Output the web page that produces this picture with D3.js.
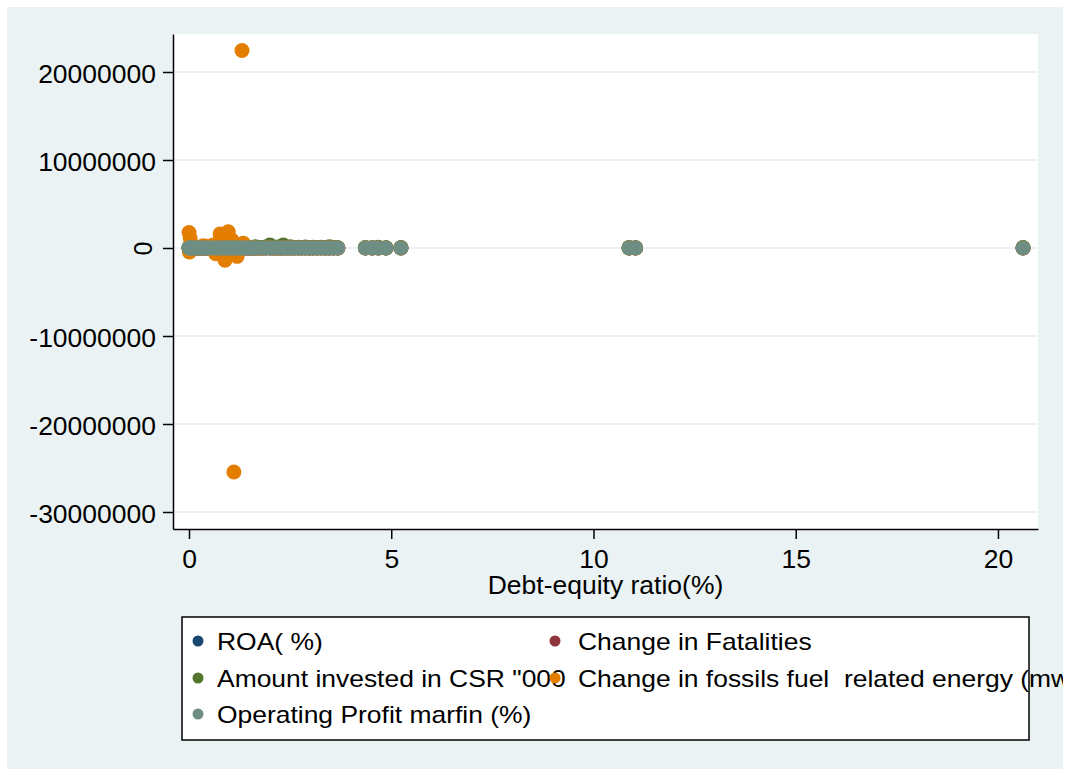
<!DOCTYPE html>
<html>
<head>
<meta charset="utf-8">
<script src="https://cdn.jsdelivr.net/npm/d3@7"></script>
<style>
  body { margin: 0; background: #fff; }
  text { font-family: "Liberation Sans", Arial, sans-serif; fill: #000; }
</style>
</head>
<body>
<script>
// x for every series: debt-equity ratio (%)
const debtEquity = [0.00, 0.01, 0.03, 0.06, 0.10, 0.14, 0.19, 0.24, 0.29, 0.35, 0.41, 0.45, 0.52, 0.60, 0.66, 0.72,
  0.77, 0.83, 0.89, 0.95, 0.97, 1.02, 1.06, 1.11, 1.15, 1.19, 1.24, 1.31, 1.34, 1.40, 1.48, 1.56, 1.64, 1.72, 1.81,
  1.90, 2.00, 2.09, 2.18, 2.26, 2.33, 2.42, 2.51, 2.60, 2.70, 2.79, 2.88, 2.98, 3.07, 3.17, 3.27, 3.37, 3.47, 3.57,
  3.68, 4.36, 4.53, 4.68, 4.87, 5.24, 10.88, 11.04, 20.62];

const roa = [4.2, 6.1, 3.5, -1.2, 8.7, 5.5, 2.9, 7.3, 1.8, 4.6, 9.2, 3.1, 5.9, 6.6, -2.4, 4.8, 7.7, 3.3, 2.2, 5.1,
  6.9, 1.4, 4.4, 8.1, 3.8, 2.6, 5.3, 6.2, 4.1, 7.0, 3.6, 2.8, 5.7, 4.9, 1.9, 6.4, 3.2, 5.0, 2.4, 4.3, 7.5, 3.9, 6.0,
  2.1, 4.7, 5.6, 3.4, 1.6, 4.5, 6.8, 2.7, 5.2, 3.0, 4.0, 2.3, 3.7, 1.1, 2.5, 0.9, -0.8, 1.3, 0.6, -3.2];

const fatalities = [0, 1, -1, 2, 0, 0, 3, -2, 1, 0, 0, 2, -1, 0, 1, 4, 0, -3, 1, 0, 2, 0, -1, 5, 0, 1, 0, -2, 3, 0,
  1, 0, 0, -1, 2, 0, 1, 0, -4, 0, 2, 1, 0, 0, -1, 3, 0, 1, 0, 0, 2, -1, 0, 1, 0, 0, 1, 0, -1, 0, 2, 0, 1];

const csr = [45000, 12000, 80000, 30000, 150000, 22000, 60000, 9000, 110000, 35000, 70000, 18000, 95000, 40000,
  125000, 28000, 55000, 14000, 100000, 65000, 38000, 85000, 500000, 20000, 140000, 48000, 75000, 32000, 160000, 26000,
  90000, 52000, 130000, 16000, 68000, 105000, 330000, 44000, 120000, 36000, 330000, 58000, 145000, 24000, 82000, 62000,
  115000, 10000, 72000, 42000, 98000, 30000, 135000, 50000, 20000, 60000, 34000, 88000, 15000, 46000, 70000, 25000, 54000];

const fossil = [1750000, -450000, 1100000, 15000, -22000, 8000, 30000, -12000, 5000, 250000, -40000, 200000, 60000,
  350000, -650000, 90000, 1600000, -120000, -1400000, 140000, 1850000, -200000, 900000, -25450000, 75000, -950000,
  -60000, 22450000, 550000, 40000, -25000, 18000, -9000, 12000, -30000, 7000, 21000, -15000, 9000, -6000, 14000, 3000,
  -11000, 8000, 2000, -4000, 6000, 10000, -7000, 3000, 5000, -2000, 4000, 1000, -3000, 2500, -1500, 3500, 800, -1200,
  600, -900, 400];

const opm = [12.5, 8.3, 15.1, 6.7, 10.2, 18.4, 9.9, 14.6, 7.2, 11.8, 13.3, 5.6, 16.9, 9.1, 12.0, 7.8, 10.7, 14.2, 6.1,
  11.4, 13.8, 8.9, 15.6, 10.0, 12.9, 7.4, 9.6, 16.3, 11.1, 8.0, 13.0, 10.5, 6.9, 14.8, 9.3, 12.2, 7.6, 11.9, 15.0, 8.6,
  10.9, 13.5, 6.4, 12.7, 9.7, 11.2, 14.1, 8.2, 10.3, 7.0, 12.4, 9.0, 11.6, 6.8, 10.1, 8.8, 5.2, 7.9, 4.6, 3.1, 6.3, 5.8, -2.5];

const seriesNames = ["ROA( %)", "Change in Fatalities", "Amount invested in CSR \"000",
  "Change in fossils fuel  related energy (mwh)", "Operating Profit marfin (%)"];
const seriesColors = ["#1a476f", "#90353b", "#55752f", "#e37e00", "#6e8e84"];
const seriesValues = [roa, fatalities, csr, fossil, opm];

const xTicks = [0, 5, 10, 15, 20];
const yTicks = [20000000, 10000000, 0, -10000000, -20000000, -30000000];
const xTitle = "Debt-equity ratio(%)";

var width = 1067, height = 770;
var svg = d3.select("body").append("svg")
    .attr("width", width)
    .attr("height", height);

// outer graph region
svg.append("rect").attr("x", 7).attr("y", 7).attr("width", 1056).attr("height", 762).attr("fill", "#eaf2f3");

var plot = {left: 173, right: 1038, top: 34, bottom: 529};
svg.append("rect")
    .attr("x", plot.left).attr("y", plot.top)
    .attr("width", plot.right - plot.left).attr("height", plot.bottom - plot.top)
    .attr("fill", "#fff");

var x = d3.scaleLinear().domain([-0.3956, 20.99]).range([plot.left, plot.right]);
var y = d3.scaleLinear().domain([24318000, -31932000]).range([plot.top, plot.bottom]);

// grid
svg.append("g").selectAll("line")
    .data(yTicks).enter().append("line")
    .attr("x1", plot.left).attr("x2", plot.right)
    .attr("y1", d => y(d)).attr("y2", d => y(d))
    .attr("stroke", "#eaf2f3").attr("stroke-width", 2);

// points, drawn in series order
seriesValues.forEach(function(vals, s) {
    var pts = debtEquity.map((d, i) => [d, vals[i]]).filter(p => p[1] !== undefined);
    svg.append("g").selectAll("circle")
        .data(pts).enter().append("circle")
        .attr("cx", d => x(d[0]))
        .attr("cy", d => y(d[1]))
        .attr("r", 7.5)
        .attr("fill", seriesColors[s]);
});

// plain hyphen for negatives, like the original
var fmt = d => d3.format("d")(d).replace("\u2212", "-");

// y axis
var yAxis = svg.append("g")
    .attr("transform", "translate(" + plot.left + ",0)")
    .call(d3.axisLeft(y).tickValues(yTicks).tickSize(10).tickSizeOuter(0).tickFormat(fmt));
yAxis.select(".domain").attr("stroke-width", 1.5);
yAxis.selectAll(".tick line").attr("stroke-width", 1.5);
yAxis.selectAll("text")
    .attr("x", 0).attr("dy", "0.42em")
    .attr("transform", "translate(-17,0) scale(1.06,1)")
    .style("font-size", "25px").style("font-family", "Liberation Sans, Arial, sans-serif");
// Stata drew the zero label turned on its side
yAxis.selectAll(".tick").filter(d => d === 0).select("text")
    .attr("x", null).attr("dy", null)
    .attr("text-anchor", "middle")
    .attr("transform", "translate(-21,0) rotate(-90)");

// x axis
var xAxis = svg.append("g")
    .attr("transform", "translate(0," + plot.bottom + ")")
    .call(d3.axisBottom(x).tickValues(xTicks).tickSize(10).tickSizeOuter(0));
xAxis.select(".domain").attr("stroke-width", 1.5);
xAxis.selectAll(".tick line").attr("stroke-width", 1.5);
xAxis.selectAll("text")
    .attr("y", 0).attr("dy", 0)
    .attr("transform", "translate(0,39) scale(1.06,1)")
    .style("font-size", "25px").style("font-family", "Liberation Sans, Arial, sans-serif");

svg.append("text")
    .attr("transform", "translate(" + (plot.left + plot.right) / 2 + ",594) scale(1.06,1)")
    .attr("text-anchor", "middle")
    .style("font-size", "25px")
    .text(xTitle);

// legend
svg.append("clipPath").attr("id", "graphclip")
    .append("rect").attr("x", 7).attr("y", 7).attr("width", 1056).attr("height", 762);

var legend = svg.append("g").attr("clip-path", "url(#graphclip)");
legend.append("rect")
    .attr("x", 182).attr("y", 617).attr("width", 847).attr("height", 123)
    .attr("fill", "#fff").attr("stroke", "#000").attr("stroke-width", 1.5);

var keyX = [198, 555], labelX = [217, 578], rowBase = [650, 687, 723];
seriesNames.forEach(function(name, i) {
    var col = i % 2, row = Math.floor(i / 2);
    legend.append("circle")
        .attr("cx", keyX[col]).attr("cy", rowBase[row] - 9)
        .attr("r", 5.5).attr("fill", seriesColors[i]);
    legend.append("text")
        .attr("transform", "translate(" + labelX[col] + "," + rowBase[row] + ") scale(1.15,1)")
        .style("font-size", "23px")
        .style("white-space", "pre")
        .text(name);
});
</script>
</body>
</html>
